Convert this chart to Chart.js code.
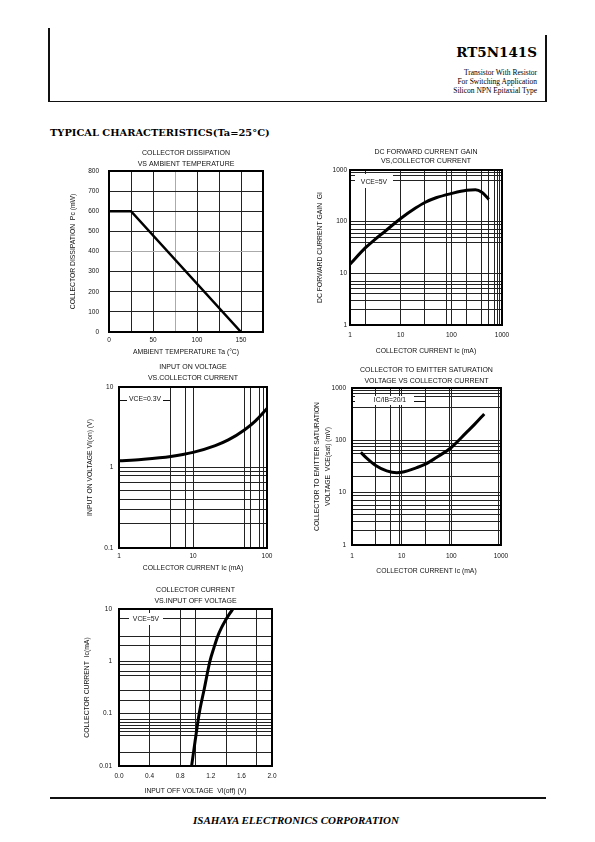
<!DOCTYPE html>
<html>
<head>
<meta charset="utf-8">
<script src="https://cdn.jsdelivr.net/npm/chart.js@4.4.1/dist/chart.umd.min.js"></script>
<style>
  body { margin: 0; width: 595px; height: 842px; position: relative; background: #fff; overflow: hidden; }
  canvas { position: absolute; }
  .ln { position: absolute; background: #111; }
  .tx { position: absolute; white-space: nowrap; color: #000; }
</style>
</head>
<body>
<div class="ln" style="left:48px;top:28px;width:1.5px;height:74px"></div>
<div class="ln" style="left:545px;top:35px;width:1.5px;height:67px"></div>
<div class="ln" style="left:48px;top:100.5px;width:498.5px;height:1.5px"></div>
<div class="tx" style="right:58px;top:45.5px;font:bold 13.5px/13.5px 'DejaVu Serif',serif">RT5N141S</div>
<div class="tx" style="right:58px;top:68px;font:7.5px/9px 'Liberation Serif',serif;text-align:right">Transistor With Resistor<br>For Switching Application<br>Silicon NPN Epitaxial Type</div>
<div class="tx" style="left:50px;top:128px;font:bold 9.9px/10px 'DejaVu Serif',serif">TYPICAL CHARACTERISTICS(Ta=25°C)</div>
<div class="ln" style="left:50px;top:797px;width:496px;height:2px"></div>
<div class="tx" style="left:0;width:592px;top:815px;text-align:center;font:italic bold 11px/11px 'Liberation Serif',serif">ISAHAYA ELECTRONICS CORPORATION</div>

<script>
// collector dissipation vs ambient temperature
const pcTemp = [0, 25, 150];
const pcPower = [600, 600, 0];
const pcXTicks = [0, 25, 50, 75, 100, 125, 150, 175];
const pcXLabels = [0, 50, 100, 150];
const pcYTicks = [0, 100, 200, 300, 400, 500, 600, 700, 800];

// DC forward current gain vs collector current
const hfeIc = [1, 2, 3, 5, 10, 20, 30, 50, 100, 200, 300, 400, 550];
const hfeGain = [15, 31, 44, 66, 115, 185, 235, 290, 350, 405, 415, 370, 270];
const hfeXGrid = [2, 10, 30, 80, 100, 200, 400, 550, 700, 800, 900];
const hfeYGrid = [2, 3, 4, 5, 6, 7, 10, 40, 50, 60, 70, 90, 100, 620, 770, 900];
const hfeXLabels = [1, 10, 100, 1000];
const hfeYLabels = [1, 10, 100, 1000];

// input on voltage vs collector current
const vionIc = [1, 2, 5, 10, 20, 30, 50, 70, 100];
const vionV = [1.21, 1.26, 1.37, 1.54, 1.87, 2.2, 2.95, 3.8, 5.4];
const vionXGrid = [5, 8, 10, 50, 60, 80, 90];
const vionYGrid = [0.2, 0.3, 0.4, 0.52, 0.66, 0.8, 0.9, 1];
const vionXLabels = [1, 10, 100];
const vionYLabels = [0.1, 1, 10];

// collector-emitter saturation voltage vs collector current
const vsatIc = [1.5, 2, 3, 5, 8, 10, 20, 30, 50, 100, 200, 300, 460];
const vsatV = [59, 45, 33, 26, 24, 24.5, 30, 35, 47, 73, 140, 206, 320];
const vsatXGrid = [3, 6, 9, 10, 30, 90, 100, 900];
const vsatYGrid = [1.9, 2.8, 3.9, 4.7, 5.6, 7.2, 8.8, 10, 20, 38, 55, 63, 76, 88, 100, 430, 680, 790, 890];
const vsatXLabels = [1, 10, 100, 1000];
const vsatYLabels = [1, 10, 100, 1000];

// collector current vs input off voltage
const vioffV = [0.949, 0.995, 1.048, 1.115, 1.188, 1.24, 1.29, 1.34, 1.39, 1.44, 1.49];
const vioffIc = [0.01, 0.03, 0.1, 0.3, 1, 1.8, 3, 4.4, 6, 7.9, 10];
const vioffXGrid = [0.4, 0.8, 1.0, 1.4, 1.8];
const vioffXLabels = [0, 0.4, 0.8, 1.2, 1.6, 2.0];
const vioffYGrid = [0.018, 0.038, 0.045, 0.052, 0.06, 0.068, 0.079, 0.1, 0.18, 0.28, 0.54, 0.63, 0.87, 1, 2, 3, 6.6];
const vioffYLabels = [0.01, 0.1, 1, 10];

Chart.defaults.font.family = '"Liberation Sans", Arial, sans-serif';
Chart.defaults.color = '#111';

// frame around the plot + the little condition label inside it
const frame = {
  id: 'frame',
  beforeDatasetsDraw(chart, args, opts) {
    const t = opts.tag;
    if (!t) return;
    const {ctx, chartArea: a} = chart;
    ctx.save();
    if (t.line) {
      ctx.strokeStyle = '#111';
      ctx.lineWidth = 1;
      ctx.beginPath();
      ctx.moveTo(a.left + t.line[0], Math.round(a.top + t.y) + 0.5);
      ctx.lineTo(a.left + t.line[1], Math.round(a.top + t.y) + 0.5);
      ctx.stroke();
    }
    ctx.fillStyle = '#fff';
    ctx.fillRect(a.left + t.box[0], a.top + t.box[1], t.box[2] - t.box[0], t.box[3] - t.box[1]);
    ctx.fillStyle = '#111';
    ctx.font = '6.8px "Liberation Sans"';
    ctx.textAlign = 'center';
    ctx.textBaseline = 'middle';
    ctx.fillText(t.text, a.left + t.x, a.top + t.y);
    ctx.restore();
  },
  afterDraw(chart) {
    const {ctx, chartArea: a} = chart;
    ctx.save();
    ctx.strokeStyle = '#000';
    ctx.lineWidth = 2;
    ctx.strokeRect(a.left, a.top, a.right - a.left, a.bottom - a.top);
    ctx.restore();
  }
};

function axis(o) {
  const ticks = [...new Set([...o.labels, ...o.grid])].sort((a, b) => a - b);
  return {
    type: o.type, min: o.min, max: o.max,
    afterBuildTicks: s => { s.ticks = ticks.map(v => ({value: v})); },
    afterFit: s => { if (o.horiz) s.height = 35; else s.width = 50; },
    border: {display: false},
    grid: {
      drawTicks: false, lineWidth: 1,
      color: c => (o.gray || []).includes(c.tick.value) ? '#aaa' : (o.grid.includes(c.tick.value) ? '#222' : 'rgba(0,0,0,0)')
    },
    ticks: {
      autoSkip: false, maxRotation: 0, padding: o.tickPad, font: {size: 6.5},
      callback: v => o.labels.includes(v) ? (o.fmt ? o.fmt(v) : String(v)) : ''
    },
    title: {
      display: true, text: o.title, font: {size: 6.8, lineHeight: o.lh || 1.2},
      padding: o.horiz ? {top: 0, bottom: o.titlePad} : {top: o.titlePad, bottom: 0}
    }
  };
}

function makeChart(box, o) {
  const cv = document.createElement('canvas');
  const w = box.R - box.L + 65, h = box.B - box.T + 75;
  cv.width = w; cv.height = h;
  cv.style.left = (box.L - 50) + 'px';
  cv.style.top = (box.T - 40) + 'px';
  cv.style.width = w + 'px';
  cv.style.height = h + 'px';
  document.body.appendChild(cv);
  const gap = o.titleGap;
  new Chart(cv, {
    type: 'line',
    data: {
      datasets: [{
        data: o.xs.map((x, i) => ({x: x, y: o.ys[i]})),
        borderColor: '#000', borderWidth: o.lineW || 3,
        pointRadius: 0, fill: false,
        cubicInterpolationMode: o.smooth ? 'monotone' : 'default', tension: 0
      }]
    },
    options: {
      responsive: false, animation: false, devicePixelRatio: 1,
      layout: {padding: {left: 0, right: 15, top: 0, bottom: 0}},
      plugins: {
        legend: {display: false},
        tooltip: {enabled: false},
        title: {
          display: true, text: o.title, fullSize: false, color: '#111',
          font: {size: 7, weight: 'normal', lineHeight: gap / 7},
          padding: {top: 40 - 2 * gap - o.titlePb, bottom: o.titlePb}
        },
        frame: {tag: o.tag}
      },
      scales: {x: axis(Object.assign({horiz: true}, o.x)), y: axis(o.y)}
    },
    plugins: [frame]
  });
}

makeChart({L: 109, T: 171, R: 263, B: 332}, {
  title: ['COLLECTOR DISSIPATION', 'VS AMBIENT TEMPERATURE'], titleGap: 11, titlePb: 1.5,
  xs: pcTemp, ys: pcPower, lineW: 2.5,
  x: {type: 'linear', min: 0, max: 175, labels: pcXLabels, grid: pcXTicks.slice(1, -1), gray: [75],
      tickPad: 4.1, title: 'AMBIENT TEMPERATURE Ta (°C)', titlePad: 10.9},
  y: {type: 'linear', min: 0, max: 800, labels: pcYTicks, grid: pcYTicks.slice(1, -1), gray: [400],
      tickPad: 10, title: 'COLLECTOR DISSIPATION  Pc (mW)', titlePad: 9.9}
});

makeChart({L: 350, T: 170, R: 502, B: 325}, {
  title: ['DC FORWARD CURRENT GAIN', 'VS,COLLECTOR CURRENT'], titleGap: 9.5, titlePb: 4.1,
  xs: hfeIc, ys: hfeGain, smooth: true,
  x: {type: 'logarithmic', min: 1, max: 1000, labels: hfeXLabels, grid: hfeXGrid,
      tickPad: 6.1, title: 'COLLECTOR CURRENT Ic (mA)', titlePad: 5.2},
  y: {type: 'logarithmic', min: 1, max: 1000, labels: hfeYLabels, grid: hfeYGrid,
      tickPad: 3, title: 'DC FORWARD CURRENT GAIN  GI', titlePad: 15.9},
  tag: {text: 'VCE=5V', x: 24, y: 12, box: [5, 4, 43, 18]}
});

makeChart({L: 119, T: 387, R: 267, B: 548}, {
  title: ['INPUT ON VOLTAGE', 'VS.COLLECTOR CURRENT'], titleGap: 11.6, titlePb: 2.9,
  xs: vionIc, ys: vionV, smooth: true,
  x: {type: 'logarithmic', min: 1, max: 100, labels: vionXLabels, grid: vionXGrid,
      tickPad: 4.8, title: 'COLLECTOR CURRENT Ic (mA)', titlePad: 10.9},
  y: {type: 'logarithmic', min: 0.1, max: 10, labels: vionYLabels, grid: vionYGrid,
      tickPad: 5.7, title: 'INPUT ON VOLTAGE VI(on) (V)', titlePad: 16.9},
  tag: {text: 'VCE=0.3V', x: 26, y: 12.5, box: [8, 7, 44, 18], line: [1, 51]}
});

makeChart({L: 352, T: 388, R: 501, B: 545}, {
  title: ['COLLECTOR TO EMITTER SATURATION', 'VOLTAGE VS COLLECTOR CURRENT'], titleGap: 10.7, titlePb: 1.95,
  xs: vsatIc, ys: vsatV, smooth: true,
  x: {type: 'logarithmic', min: 1, max: 1000, labels: vsatXLabels, grid: vsatXGrid,
      tickPad: 7.8, title: 'COLLECTOR CURRENT Ic (mA)', titlePad: 4.9},
  y: {type: 'logarithmic', min: 1, max: 1000, labels: vsatYLabels, grid: vsatYGrid,
      tickPad: 6, title: ['COLLECTOR TO EMITTER SATURATION', 'VOLTAGE  VCE(sat) (mV)'], lh: 1.6, titlePad: 9.56},
  tag: {text: 'IC/IB=20/1', x: 38, y: 12.5, box: [3, 8, 62, 17], line: [1, 73.5]}
});

makeChart({L: 119, T: 609, R: 272, B: 766}, {
  title: ['COLLECTOR CURRENT', 'VS.INPUT OFF VOLTAGE'], titleGap: 10.7, titlePb: 2.95,
  xs: vioffV, ys: vioffIc, smooth: true,
  x: {type: 'linear', min: 0, max: 2, labels: vioffXLabels, grid: vioffXGrid, fmt: v => v.toFixed(1),
      tickPad: 6.8, title: 'INPUT OFF VOLTAGE  VI(off) (V)', titlePad: 6.2},
  y: {type: 'logarithmic', min: 0.01, max: 10, labels: vioffYLabels, grid: vioffYGrid,
      tickPad: 7, title: 'COLLECTOR CURRENT  Ic(mA)', titlePad: 14.4},
  tag: {text: 'VCE=5V', x: 27, y: 10, box: [10, 4, 44, 16]}
});
</script>
</body>
</html>
